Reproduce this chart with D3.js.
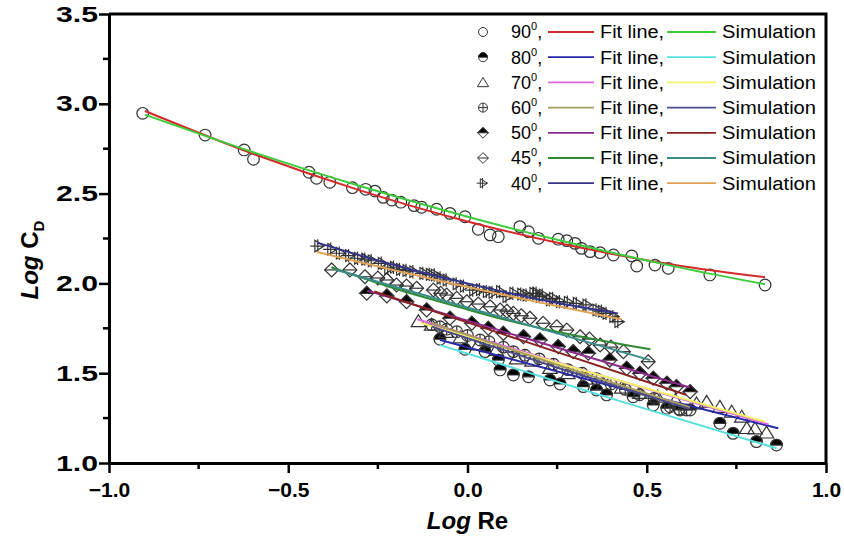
<!DOCTYPE html>
<html>
<head>
<meta charset="utf-8">
<script src="https://cdn.jsdelivr.net/npm/d3@7"></script>
<style>
  body { margin: 0; background: #fff; }
  svg { font-family: Arial, "Liberation Sans", sans-serif; }
</style>
</head>
<body>
<div id="chart"></div>
<script>
// tick labels
const xTicks = [-1.0, -0.5, 0.0, 0.5, 1.0];
const yTicks = [1.0, 1.5, 2.0, 2.5, 3.0, 3.5];

// legend labels
const angles = ["90", "80", "70", "60", "50", "45", "40"];

// measured points [log Re, log CD]
const pts90 = [[-0.906,2.947],[-0.732,2.826],[-0.623,2.743],[-0.597,2.691],[-0.442,2.619],[-0.421,2.585],
  [-0.384,2.563],[-0.321,2.533],[-0.284,2.524],[-0.258,2.514],[-0.235,2.479],[-0.211,2.464],[-0.186,2.452],
  [-0.149,2.433],[-0.128,2.424],[-0.086,2.413],[-0.049,2.390],[-0.007,2.371],[0.030,2.301],[0.063,2.270],
  [0.086,2.260],[0.146,2.316],[0.170,2.288],[0.198,2.251],[0.253,2.246],[0.277,2.238],[0.300,2.223],
  [0.318,2.195],[0.342,2.177],[0.370,2.171],[0.407,2.158],[0.458,2.153],[0.472,2.097],[0.523,2.102],
  [0.560,2.084],[0.676,2.047],[0.830,1.991]];
const pts80 = [[-0.077,1.689],[-0.007,1.633],[0.049,1.620],[0.086,1.573],[0.091,1.518],[0.128,1.490],
  [0.170,1.480],[0.230,1.462],[0.258,1.440],[0.323,1.425],[0.360,1.406],[0.388,1.379],[0.462,1.369],
  [0.518,1.323],[0.556,1.305],[0.593,1.295],[0.621,1.295],[0.704,1.221],[0.741,1.165],[0.806,1.119],[0.862,1.100]];
const pts70 = [[-0.137,1.790],[-0.100,1.770],[-0.060,1.730],[-0.020,1.700],[0.030,1.660],[0.080,1.630],
  [0.137,1.583],[0.180,1.570],[0.230,1.530],[0.280,1.500],[0.330,1.470],[0.380,1.440],[0.430,1.420],
  [0.480,1.390],[0.530,1.370],[0.580,1.350],[0.639,1.332],[0.667,1.341],[0.704,1.313],[0.737,1.286],
  [0.765,1.258],[0.779,1.195],[0.802,1.193],[0.834,1.170]];
const pts60 = [[-0.100,1.770],[-0.077,1.759],[-0.058,1.745],[-0.030,1.731],[0.000,1.710],[0.035,1.685],
  [0.060,1.675],[0.100,1.645],[0.128,1.620],[0.160,1.600],[0.200,1.580],[0.240,1.550],[0.280,1.520],
  [0.320,1.500],[0.360,1.470],[0.400,1.440],[0.440,1.410],[0.480,1.380],[0.520,1.360],[0.565,1.313],
  [0.590,1.300],[0.611,1.295]];
const pts50 = [[-0.281,1.945],[-0.225,1.930],[-0.170,1.898],[-0.114,1.852],[-0.049,1.806],[0.012,1.778],
  [0.058,1.750],[0.100,1.722],[0.156,1.703],[0.202,1.685],[0.253,1.648],[0.295,1.620],[0.337,1.611],
  [0.397,1.573],[0.444,1.527],[0.481,1.499],[0.518,1.472],[0.556,1.444],[0.583,1.425],[0.621,1.397]];
const pts45 = [[-0.379,2.075],[-0.328,2.075],[-0.286,2.037],[-0.250,2.030],[-0.225,2.019],[-0.198,1.991],
  [-0.170,1.985],[-0.142,1.973],[-0.095,1.963],[-0.075,1.945],[-0.058,1.935],[-0.030,1.917],[-0.002,1.898],
  [0.030,1.885],[0.063,1.870],[0.091,1.852],[0.110,1.845],[0.128,1.833],[0.150,1.820],[0.174,1.806],
  [0.211,1.778],[0.249,1.759],[0.277,1.740],[0.314,1.703],[0.340,1.690],[0.370,1.657],[0.400,1.645],
  [0.435,1.620],[0.504,1.564]];
const pts40 = [[-0.416,2.208],[-0.380,2.190],[-0.356,2.168],[-0.330,2.155],[-0.305,2.140],[-0.285,2.135],
  [-0.267,2.126],[-0.239,2.112],[-0.221,2.084],[-0.205,2.090],[-0.188,2.078],[-0.170,2.072],[-0.151,2.065],
  [-0.123,2.056],[-0.105,2.050],[-0.091,2.047],[-0.075,2.030],[-0.058,2.019],[-0.030,1.997],[-0.010,1.985],
  [0.016,1.963],[0.035,1.965],[0.054,1.954],[0.070,1.950],[0.091,1.954],[0.109,1.926],[0.128,1.945],
  [0.150,1.940],[0.165,1.935],[0.184,1.945],[0.193,1.945],[0.202,1.926],[0.210,1.935],[0.230,1.908],
  [0.239,1.917],[0.258,1.898],[0.280,1.895],[0.305,1.889],[0.332,1.880],[0.360,1.852],[0.375,1.845],
  [0.388,1.833],[0.407,1.815],[0.421,1.787]];

// fit lines and simulation curves
const fit90 = [[-0.9,2.960],[-0.6,2.723],[-0.3,2.518],[0,2.345],[0.3,2.205],[0.6,2.096],[0.83,2.035]];
const sim90 = [[-0.9,2.940],[-0.6,2.732],[-0.3,2.542],[0,2.371],[0.3,2.219],[0.6,2.085],[0.83,1.995]];
const fit80 = [[-0.077,1.685],[0.4,1.430],[0.867,1.193]];
const sim80 = [[-0.077,1.657],[0.4,1.360],[0.862,1.082]];
const fit70 = [[-0.14,1.800],[0.35,1.500],[0.84,1.215]];
const sim70 = [[-0.13,1.780],[0.35,1.500],[0.83,1.230]];
const fit60 = [[-0.10,1.780],[0.26,1.540],[0.62,1.310]];
const sim60 = [[-0.10,1.760],[0.26,1.525],[0.62,1.300]];
const fit50 = [[-0.28,1.960],[0.17,1.690],[0.62,1.420]];
const sim50 = [[-0.26,1.955],[0.17,1.670],[0.61,1.380]];
const fit45 = [[-0.38,2.090],[-0.2,1.970],[0,1.855],[0.1,1.800],[0.3,1.710],[0.51,1.633]];
const sim45 = [[-0.37,2.078],[0.07,1.825],[0.51,1.573]];
const fit40 = [[-0.42,2.227],[-0.2,2.100],[0,2.000],[0.2,1.910],[0.42,1.833]];
const sim40 = [[-0.42,2.175],[0,1.980],[0.43,1.800]];

const fitColors = ["#d42a2a", "#2a2aa8", "#e066e0", "#a89c5c", "#8e2a8e", "#2e8b32", "#34348e"];
const simColors = ["#3ccc3c", "#55e0e0", "#f2f266", "#4c4c8c", "#8a2222", "#3a8c8c", "#e2a256"];

const series = [
  {pts: pts90, fit: fit90, sim: sim90, mark: "circle"},
  {pts: pts80, fit: fit80, sim: sim80, mark: "halfcircle"},
  {pts: pts70, fit: fit70, sim: sim70, mark: "triangle"},
  {pts: pts60, fit: fit60, sim: sim60, mark: "pluscircle"},
  {pts: pts50, fit: fit50, sim: sim50, mark: "halfdiamond"},
  {pts: pts45, fit: fit45, sim: sim45, mark: "linediamond"},
  {pts: pts40, fit: fit40, sim: sim40, mark: "crosstri"}
];

const width = 844, height = 543;
const margin = {top: 14, right: 18, bottom: 80, left: 109};
const font = "Arial, 'Liberation Sans', sans-serif";

const svg = d3.select("#chart").append("svg")
  .attr("width", width)
  .attr("height", height);

const x = d3.scaleLinear().domain([-1, 1]).range([margin.left, width - margin.right]);
const y = d3.scaleLinear().domain([1, 3.5]).range([height - margin.bottom, margin.top]);

// marker shapes
const drawMarker = (g, type, r, sw) => {
  const stroke = "#333";
  const add = (d, fill) => g.append("path").attr("d", d)
    .attr("fill", fill || "none").attr("stroke", stroke).attr("stroke-width", sw);
  const circ = `M${-r},0A${r},${r} 0 1 1 ${r},0A${r},${r} 0 1 1 ${-r},0Z`;
  const k = r * 1.2;
  const dia = `M0,${-k}L${k},0L0,${k}L${-k},0Z`;
  if (type === "circle") add(circ);
  if (type === "halfcircle") { add(circ, "white"); add(`M${-r},0A${r},${r} 0 0 1 ${r},0Z`, "#000"); }
  if (type === "triangle") add(`M0,${-r * 1.1}L${r * 1.25},${r * 0.95}L${-r * 1.25},${r * 0.95}Z`);
  if (type === "pluscircle") { add(circ); add(`M${-r},0H${r}M0,${-r}V${r}`); }
  if (type === "halfdiamond") { add(dia, "white"); add(`M0,${-k}L${k},0L${-k},0Z`, "#000"); }
  if (type === "linediamond") { add(dia); add(`M${-k},0H${k}`); }
  if (type === "crosstri") { add(`M${-r * 0.6},${-r}L${r},0L${-r * 0.6},${r}Z`); add(`M${-r * 1.4},0H${r}M${-r * 0.1},${-r * 1.15}V${r * 1.15}`); }
};

const line = d3.line()
  .curve(d3.curveMonotoneX)
  .x(d => x(d[0]))
  .y(d => y(d[1]));

// markers
series.forEach(s => {
  svg.append("g").selectAll("g")
    .data(s.pts)
    .join("g")
      .attr("transform", d => `translate(${x(d[0])},${y(d[1])})`)
      .each(function() { drawMarker(d3.select(this), s.mark, 5.8, 1.2); });
});

// curves
series.forEach((s, i) => {
  svg.append("path").datum(s.fit)
    .attr("fill", "none").attr("stroke", fitColors[i]).attr("stroke-width", 2).attr("d", line);
  svg.append("path").datum(s.sim)
    .attr("fill", "none").attr("stroke", simColors[i]).attr("stroke-width", 2).attr("d", line);
});

// frame
svg.append("path")
  .attr("d", `M${x(-1)},${y(3.5)}H${x(1)}V${y(1)}`)
  .attr("fill", "none").attr("stroke", "#000").attr("stroke-width", 3);

const xAxis = g => g
  .attr("transform", `translate(0,${y(1)})`)
  .call(d3.axisBottom(x).tickValues(xTicks).tickFormat(d3.format(".1f")).tickSize(10).tickSizeOuter(0))
  .call(g => g.selectAll(".tick line").attr("stroke-width", 2.5))
  .call(g => g.select(".domain").attr("stroke-width", 3))
  .call(g => g.selectAll(".tick text").attr("dy", "1em")
    .attr("font-size", 21).attr("font-weight", "bold").attr("font-family", font))
  .call(g => g.append("g").selectAll("line")
    .data([-0.75, -0.25, 0.25, 0.75])
    .join("line")
      .attr("x1", d => x(d)).attr("x2", d => x(d))
      .attr("y1", 0).attr("y2", 6)
      .attr("stroke", "#000").attr("stroke-width", 2.5));

const yAxis = g => g
  .attr("transform", `translate(${x(-1)},0)`)
  .call(d3.axisLeft(y).tickValues(yTicks).tickFormat(d3.format(".1f")).tickSize(10).tickSizeOuter(0))
  .call(g => g.selectAll(".tick line").attr("stroke-width", 2.5))
  .call(g => g.select(".domain").attr("stroke-width", 3))
  .call(g => g.selectAll(".tick text").attr("x", -11)
    .attr("font-size", 22).attr("font-weight", "bold").attr("font-family", font)
    .attr("textLength", 42).attr("lengthAdjust", "spacingAndGlyphs"))
  .call(g => g.append("g").selectAll("line")
    .data([1.25, 1.75, 2.25, 2.75, 3.25])
    .join("line")
      .attr("y1", d => y(d)).attr("y2", d => y(d))
      .attr("x1", 0).attr("x2", -6)
      .attr("stroke", "#000").attr("stroke-width", 2.5));

svg.append("g").call(xAxis);
svg.append("g").call(yAxis);

// axis titles
const xt = svg.append("text")
  .attr("x", x(0)).attr("y", 529)
  .attr("text-anchor", "middle")
  .attr("font-size", 24).attr("font-weight", "bold");
xt.append("tspan").attr("font-style", "italic").text("Log");
xt.append("tspan").text(" Re");

const yt = svg.append("text")
  .attr("transform", `translate(38,${y(2.13)}) rotate(-90)`)
  .attr("text-anchor", "middle")
  .attr("font-size", 24).attr("font-weight", "bold");
yt.append("tspan").attr("font-style", "italic").text("Log");
yt.append("tspan").text(" C");
yt.append("tspan").attr("font-size", 15).attr("dy", 6).text("D");

// legend
const legend = svg.append("g").attr("font-size", 18);
angles.forEach((a, i) => {
  const ly = 32 + i * 25.2;
  const row = legend.append("g").attr("transform", `translate(0,${ly})`);
  const m = row.append("g").attr("transform", "translate(483,0)");
  drawMarker(m, series[i].mark, 4.5, 1);
  const t = row.append("text").attr("x", 511).attr("dy", "0.36em");
  t.append("tspan").text(a);
  t.append("tspan").attr("font-size", 11).attr("dy", -8).text("0");
  t.append("tspan").attr("dy", 8).text(",");
  row.append("line").attr("x1", 548).attr("x2", 594).attr("stroke", fitColors[i]).attr("stroke-width", 1.8);
  row.append("text").attr("x", 600).attr("dy", "0.36em")
    .attr("textLength", 64).attr("lengthAdjust", "spacingAndGlyphs").text("Fit line,");
  row.append("line").attr("x1", 667).attr("x2", 716).attr("stroke", simColors[i]).attr("stroke-width", 1.8);
  row.append("text").attr("x", 722).attr("dy", "0.36em")
    .attr("textLength", 94).attr("lengthAdjust", "spacingAndGlyphs").text("Simulation");
});
</script>
</body>
</html>
